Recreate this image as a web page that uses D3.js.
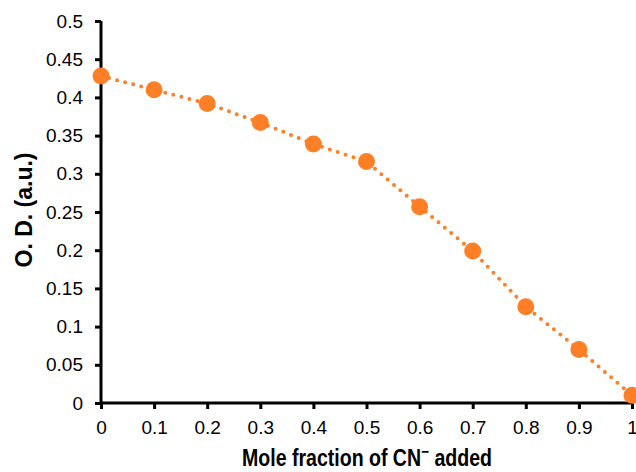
<!DOCTYPE html>
<html>
<head>
<meta charset="utf-8">
<script src="https://cdn.jsdelivr.net/npm/d3@7.9.0/dist/d3.min.js"></script>
<style>
  body { margin: 0; background: #fff; }
  svg { display: block; font-family: "Liberation Sans", Arial, sans-serif; }
</style>
</head>
<body>
<svg width="636" height="472"></svg>
<script>
// mole fraction of CN- and optical density
let moleFraction = [0, 0.1, 0.2, 0.3, 0.4, 0.5, 0.6, 0.7, 0.8, 0.9, 1];
let opticalDensity = [0.428, 0.41, 0.392, 0.367, 0.339, 0.316, 0.257, 0.199, 0.126, 0.07, 0.01];
let xTicks = [0, 0.1, 0.2, 0.3, 0.4, 0.5, 0.6, 0.7, 0.8, 0.9, 1];
let yTicks = [0, 0.05, 0.1, 0.15, 0.2, 0.25, 0.3, 0.35, 0.4, 0.45, 0.5];

let data = moleFraction.map((x, i) => ({ x: x, y: opticalDensity[i] }));

let svg = d3.select('svg');
let color = '#FF7F27';

let x = d3.scaleLinear().domain([0, 1]).range([101, 632]);
let y = d3.scaleLinear().domain([0, 0.5]).range([403, 21]);

// y axis
let yAxis = svg.append('g')
  .attr('transform', `translate(${x(0)},0)`)
  .call(d3.axisLeft(y).tickValues(yTicks).tickFormat(d3.format('')).tickSize(6).tickPadding(12));

// x axis
let xAxis = svg.append('g')
  .attr('transform', `translate(0,${y(0)})`)
  .call(d3.axisBottom(x).tickValues(xTicks).tickFormat(d3.format('')).tickSize(6).tickPadding(12));

[xAxis, yAxis].forEach(ax => {
  ax.select('.domain').attr('stroke', '#000').attr('stroke-width', 3);
  ax.selectAll('.tick line').attr('stroke', '#000').attr('stroke-width', 3);
  ax.selectAll('.tick text').attr('fill', '#000').style('font-size', '19px');
});
// domain path with outer ticks off
yAxis.select('.domain').attr('d', `M0,${y(0.5)}V${y(0)}`);
xAxis.select('.domain').attr('d', `M${x(0)},0H${x(1)}`);

// dotted line
let line = d3.line().x(d => x(d.x)).y(d => y(d.y));
svg.append('path')
  .datum(data)
  .attr('d', line)
  .attr('fill', 'none')
  .attr('stroke', color)
  .attr('stroke-width', 4)
  .attr('stroke-linecap', 'round')
  .attr('stroke-dasharray', '0 8.3');

// markers
svg.append('g')
  .selectAll('circle')
  .data(data)
  .join('circle')
  .attr('cx', d => x(d.x))
  .attr('cy', d => y(d.y))
  .attr('r', 8.5)
  .attr('fill', color);

// axis titles (slightly condensed like the original)
let xTitle = svg.append('text')
  .attr('transform', 'translate(367,466) scale(0.85,1)')
  .attr('text-anchor', 'middle')
  .style('font-size', '23px')
  .style('font-weight', 'bold')
  .text('Mole fraction of CN');
xTitle.append('tspan')
  .attr('dy', -9)
  .style('font-size', '16px')
  .text('−');
xTitle.append('tspan')
  .attr('dy', 9)
  .text(' added');

svg.append('text')
  .attr('transform', `translate(32,210) rotate(-90)`)
  .attr('text-anchor', 'middle')
  .style('font-size', '23px')
  .style('font-weight', 'bold')
  .text('O. D. (a.u.)');
</script>
</body>
</html>
